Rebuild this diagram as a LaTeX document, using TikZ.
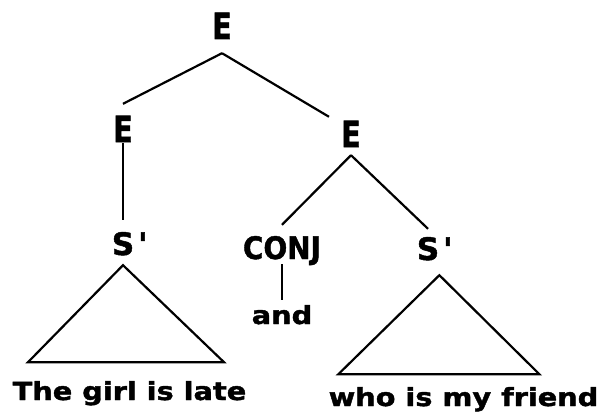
\documentclass[tikz,border=0pt]{standalone}
\usepackage{fontspec}
\setmainfont{DejaVu Sans}[FakeBold=1.5]
\begin{document}
\begin{tikzpicture}[x=1pt,y=-1pt,
  treeline/.style={line width=2.2pt},
  cat/.style={font=\fontsize{31}{31}\selectfont\bfseries, inner sep=0pt, anchor=base},
  bigcat/.style={font=\fontsize{36}{36}\selectfont\bfseries, inner sep=0pt, anchor=base, xscale=.8},
  leaf/.style={font=\fontsize{25}{25}\selectfont\bfseries, inner sep=0pt, anchor=base, xscale=1.15}]
\useasboundingbox (0,0) rectangle (601,417);
\node[bigcat, text height=26pt, text depth=14pt] (top) at (222,39) {E};
\node[bigcat, text height=38pt, text depth=1pt] (eL) at (123,142) {E};
\node[bigcat, text height=30pt, text depth=8pt, inner xsep=15pt] (eR) at (351,147) {E};
\node[cat, text height=35pt, text depth=10pt] (sL) at (123,255) {S\rlap{\kern4pt\textquotesingle}};
\node[cat, xscale=.9, text height=34pt, text depth=5pt] (conj) at (282,259) {CONJ};
\node[cat, text height=31pt, text depth=15pt] (sR) at (428,260) {S\rlap{\kern4pt\textquotesingle}};
\node[leaf, text height=24pt] (and) at (282,324) {and};
\node[leaf] (textL) at (129.5,400) {The girl is late};
\node[leaf] (textR) at (463.5,406) {who is my friend};
\draw[treeline] (top.south) -- (eL.north);
\draw[treeline] (top.south) -- (eR.north west);
\draw[treeline] (eL.south) -- (sL.north);
\draw[treeline] (eR.south) -- (conj.north);
\draw[treeline] (eR.south) -- (sR.north);
\draw[treeline] (conj.south) -- (and.north);
\draw[treeline] (sL.south) -- ++(-95,97) -- ++(196,0) -- cycle;
\draw[treeline] (sR.south east) -- ++(-101,99) -- ++(201,0) -- cycle;
\end{tikzpicture}
\end{document}
